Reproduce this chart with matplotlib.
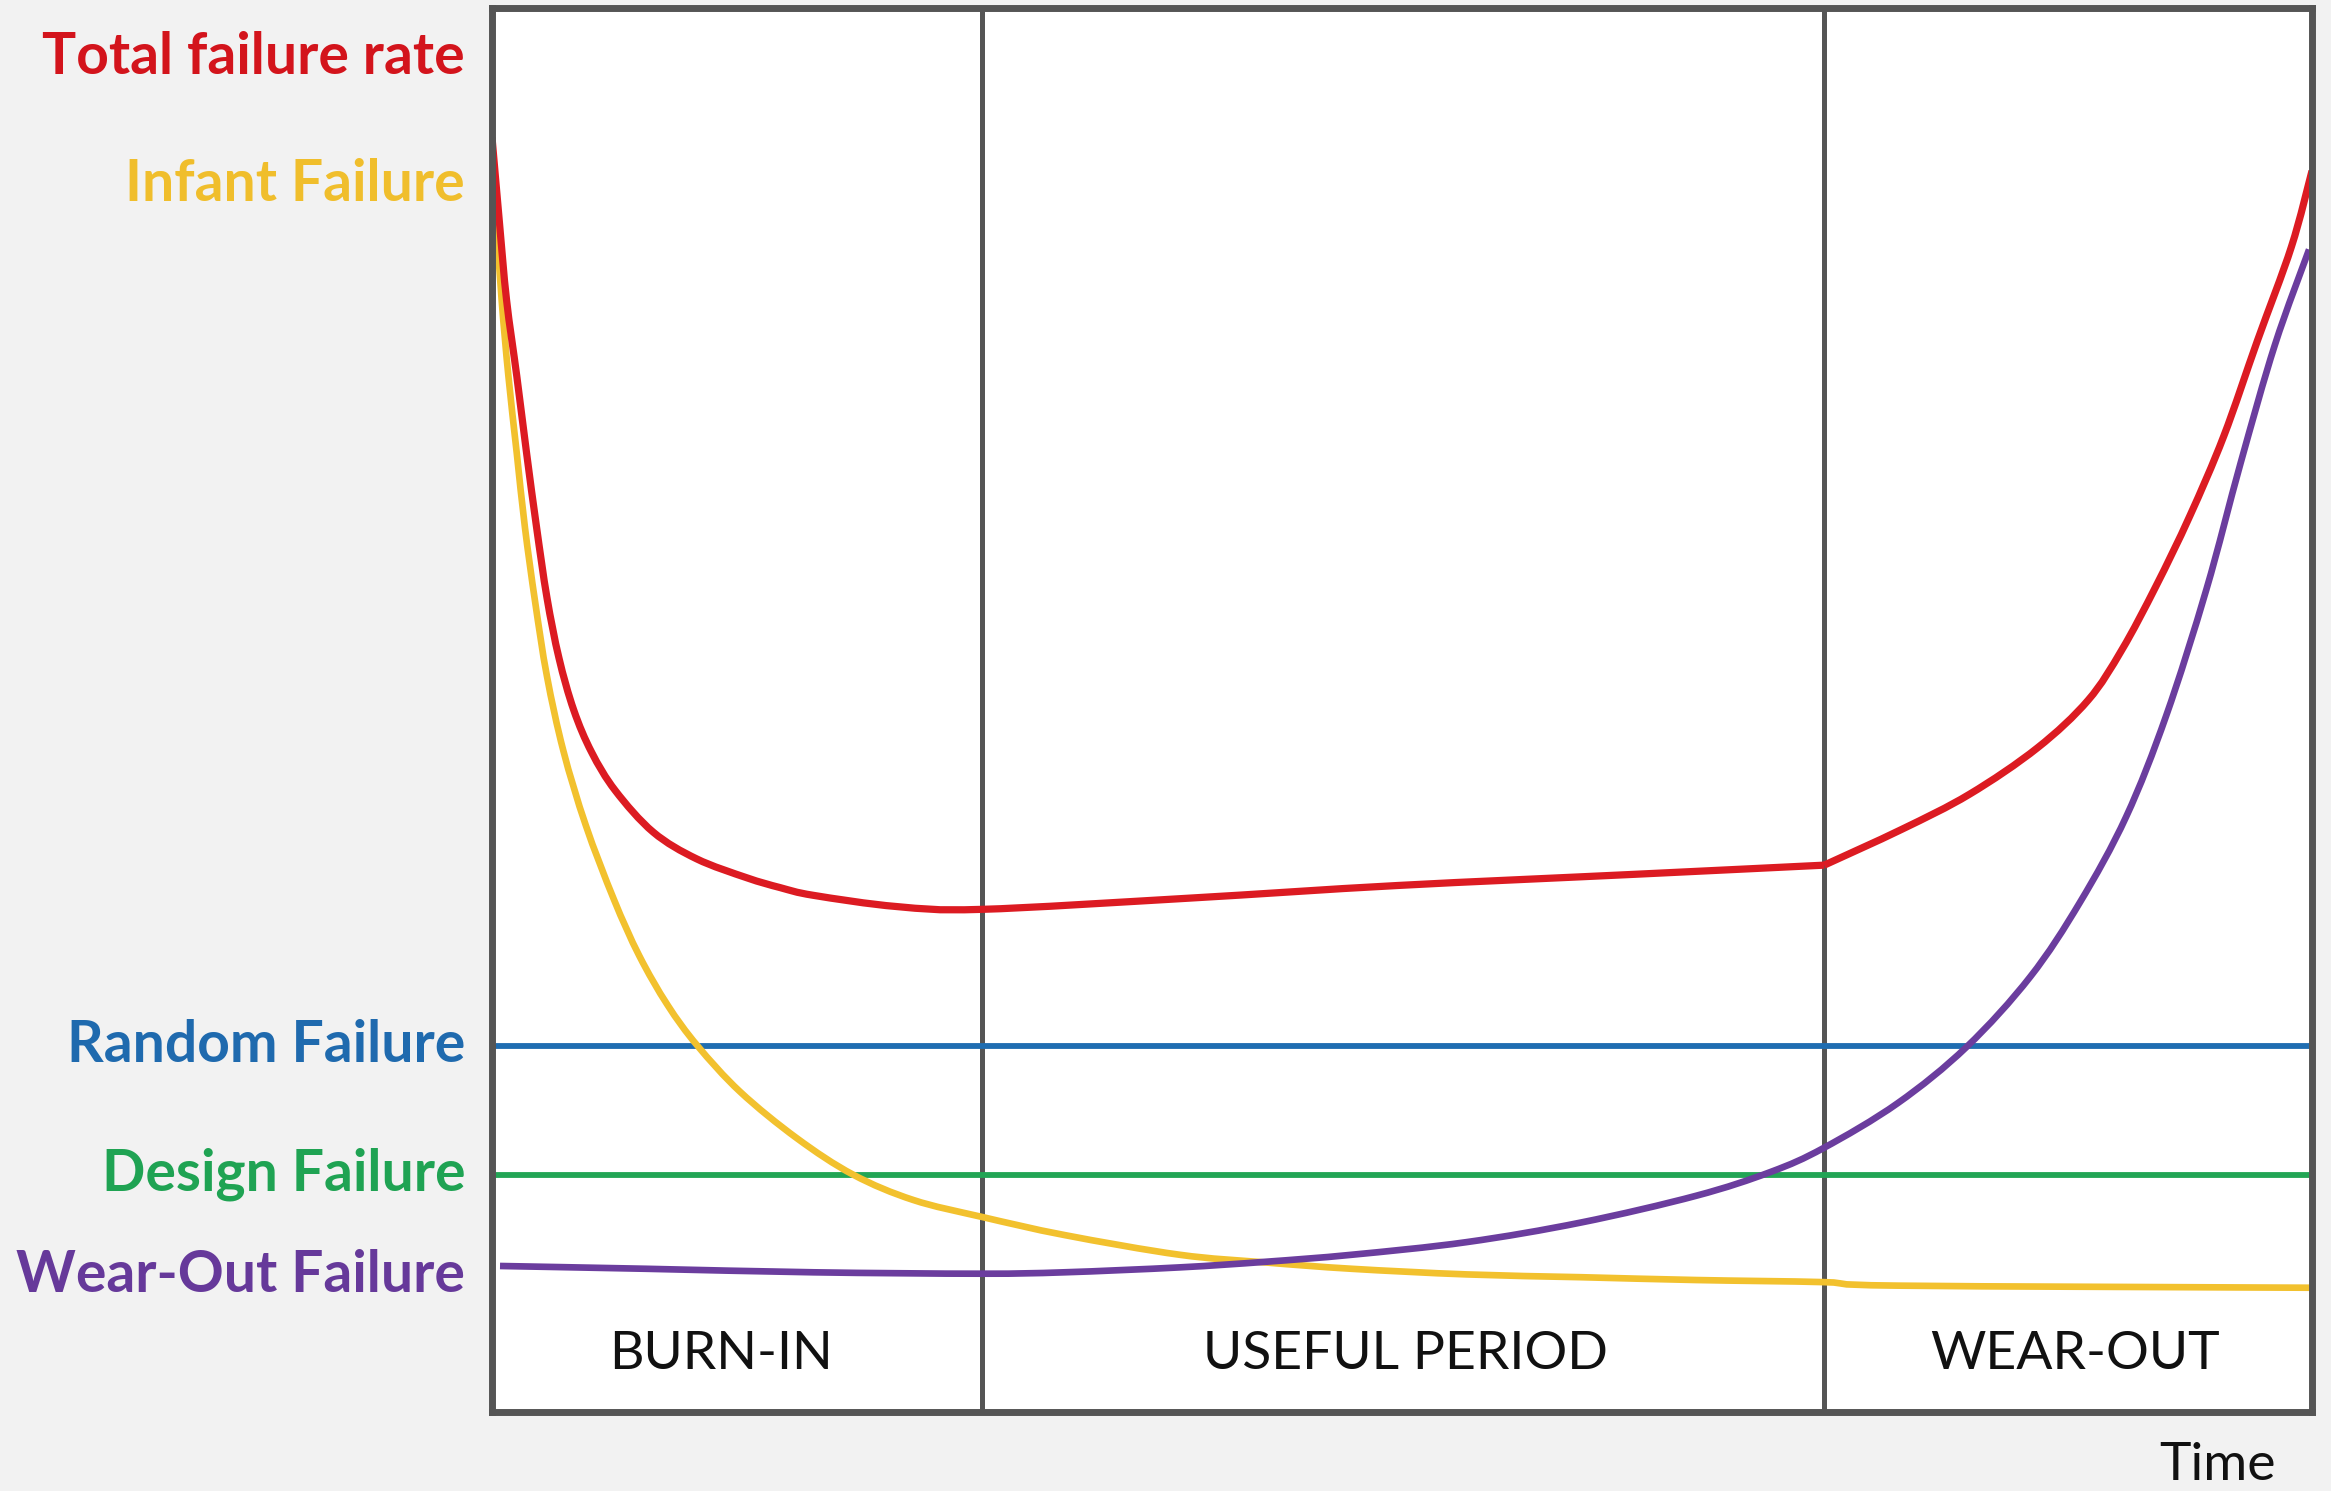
import matplotlib
matplotlib.use("Agg")
import matplotlib.pyplot as plt
import matplotlib.transforms as mtransforms
from matplotlib.path import Path
from matplotlib.patches import PathPatch
import numpy as np

# ---------------- data (time 0-100, failure rate 0-100) ----------------
infant_t = [0.0, 0.25, 0.53, 0.90, 1.36, 1.81, 2.37, 3.02, 3.92, 5.15, 6.70, 8.09,
            9.64, 11.28, 13.64, 16.75, 19.85, 23.15, 26.90, 31.47, 37.78, 42.51,
            47.24, 53.55, 59.85, 66.16, 73.16, 77.24, 100.0]
infant_r = [90.8, 84.7, 79.2, 73.8, 68.3, 63.0, 57.7, 52.4, 47.1, 41.8, 36.5, 32.5,
            29.0, 26.1, 22.8, 19.5, 16.9, 15.1, 13.9, 12.6, 11.2, 10.65,
            10.2, 9.8, 9.6, 9.4, 9.25, 9.0, 8.85]

total_t = [0.0, 0.41, 0.80, 1.36, 1.90, 2.45, 3.02, 3.68, 4.49, 5.47, 6.78, 8.86,
           11.24, 14.00, 15.83, 17.66, 22.24, 26.88, 38.32, 49.75, 62.83, 73.20,
           77.46, 81.18, 84.91, 87.70, 89.56, 91.42, 93.28, 95.15, 97.00, 98.87, 100.0]
total_r = [90.8, 84.7, 79.2, 73.8, 68.3, 63.0, 58.0, 53.7, 50.0, 47.0, 44.25, 41.3,
           39.4, 38.05, 37.35, 36.8, 36.0, 35.8, 36.6, 37.5, 38.3, 38.95,
           41.5, 44.0, 47.3, 50.7, 54.3, 58.8, 63.8, 69.5, 76.3, 83.0, 88.4]
total_kink_t = 73.20   # visible corner of the total curve at the start of wear-out

wearout_t = [0.44, 8.50, 17.66, 26.88, 31.45, 37.78, 42.51, 47.24, 53.55, 59.85,
             66.16, 70.26, 73.16, 77.24, 81.02, 84.52, 87.25, 89.79, 91.99, 94.20,
             96.08, 97.96, 99.84]
wearout_r = [10.4, 10.2, 9.95, 9.85, 9.95, 10.3, 10.7, 11.2, 12.1, 13.5,
             15.4, 17.1, 18.8, 22.0, 26.0, 31.0, 36.3, 42.4, 49.6, 58.6,
             67.6, 76.0, 82.8]

random_rate = 26.1
design_rate = 16.9

phase_bounds = [26.9, 73.2]
phase_labels = ["BURN-IN", "USEFUL PERIOD", "WEAR-OUT"]
phase_centers = [12.6, 50.2, 87.0]

series_labels = ["Total failure rate", "Infant Failure", "Random Failure",
                 "Design Failure", "Wear-Out Failure"]
label_levels = [96.5, 87.4, 26.1, 16.9, 9.7]

# ---------------- style ----------------
c_total = "#dc1b22"
c_infant = "#f2c12e"
c_random = "#1f6db1"
c_design = "#22a555"
c_wear = "#6b3d9e"
c_frame = "#555555"
label_colors = ["#d3141c", "#f0be2c", "#1f6aae", "#1fa353", "#66399a"]


def smooth_path(xs, ys):
    """Catmull-Rom curve through the given points, as cubic Bezier segments."""
    p = np.column_stack([xs, ys]).astype(float)
    n = len(p)
    verts = [p[0]]
    codes = [Path.MOVETO]
    for i in range(n - 1):
        p0 = p[i - 1] if i > 0 else p[i]
        p1, p2 = p[i], p[i + 1]
        p3 = p[i + 2] if i + 2 < n else p[i + 1]
        c1 = p1 + (p2 - p0) / 6.0
        c2 = p2 - (p3 - p1) / 6.0
        verts += [c1, c2, p2]
        codes += [Path.CURVE4] * 3
    return Path(verts, codes)


def draw_curve(ax, xs, ys, color, lw, z, breaks=()):
    idx = [0] + [xs.index(b) for b in breaks] + [len(xs) - 1]
    for a, b in zip(idx[:-1], idx[1:]):
        patch = PathPatch(smooth_path(xs[a:b + 1], ys[a:b + 1]), facecolor="none",
                          edgecolor=color, lw=lw, zorder=z, capstyle="butt",
                          joinstyle="round", transform=ax.transData)
        ax.add_patch(patch)


W, H = 2331, 1491
fig = plt.figure(figsize=(W / 100, H / 100), dpi=100, facecolor="#f2f2f2")
ax = fig.add_axes([492 / W, 1 - 1412 / H, 1820 / W, 1404 / H])
ax.set_facecolor("white")
ax.set_xlim(0, 100)
ax.set_ylim(0, 100)
ax.set_xticks([])
ax.set_yticks([])
for s in ax.spines.values():
    s.set_color(c_frame)
    s.set_linewidth(5.0)
    s.set_zorder(6)

for b in phase_bounds:
    ax.axvline(b, color=c_frame, lw=3.6, zorder=1)

ax.axhline(random_rate, color=c_random, lw=4.2, zorder=2)
ax.axhline(design_rate, color=c_design, lw=4.2, zorder=2)
draw_curve(ax, infant_t, infant_r, c_infant, 4.8, 3)
draw_curve(ax, wearout_t, wearout_r, c_wear, 4.8, 3)
draw_curve(ax, total_t, total_r, c_total, 5.2, 4, breaks=(total_kink_t,))

for lab, xc in zip(phase_labels, phase_centers):
    ax.text(xc, 4.1, lab, ha="center", va="center", fontsize=38.5,
            family="Lato", color="#111111")

trans = mtransforms.blended_transform_factory(fig.transFigure, ax.transData)
for lab, lv, col in zip(series_labels, label_levels, label_colors):
    fig.text(465 / W, lv, lab, transform=trans, ha="right", va="center",
             fontsize=41, fontweight="bold", family="Lato", color=col)

fig.text(2218 / W, 1 - 1466 / H, "Time", ha="center", va="center", fontsize=38.5,
         family="Lato", color="#111111")

fig.savefig("out.png", dpi=100, facecolor=fig.get_facecolor())
